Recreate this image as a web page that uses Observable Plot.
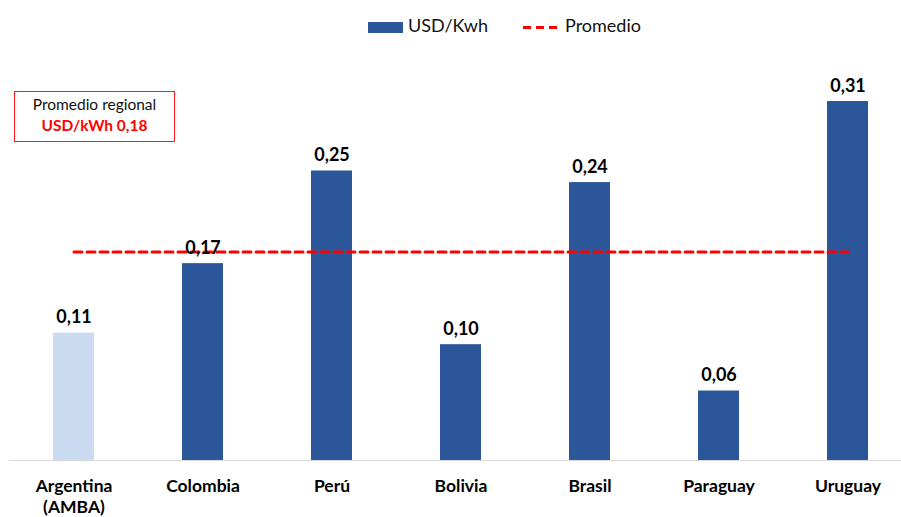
<!DOCTYPE html>
<html>
<head>
<meta charset="utf-8">
<script src="https://cdn.jsdelivr.net/npm/d3@7"></script>
<script src="https://cdn.jsdelivr.net/npm/@observablehq/plot@0.6"></script>
<style>
  html, body { margin: 0; padding: 0; background: #fff; }
  body { width: 901px; height: 517px; position: relative; overflow: hidden; font-family: Lato, "Open Sans", sans-serif; }
  #legend { position: absolute; left: 0; top: 0; width: 901px; height: 50px; }
  .lg { position: absolute; top: 14px; font-size: 18px; color: #111; line-height: 22px; }
  #chart { position: absolute; left: 0; top: 50px; }
  #note { position: absolute; left: 14px; top: 91px; width: 161px; height: 51px; border: 1.5px solid #ff1a1a; box-sizing: border-box; text-align: center; background: #fff; }
  #note .a { font-size: 15.5px; color: #111; margin-top: 3px; line-height: 19px; }
  #note .b { font-size: 15.5px; color: #ff0000; font-weight: bold; line-height: 22px; }
</style>
</head>
<body>
<div id="legend">
  <div class="lg" style="left:368px;"><span style="display:inline-block;width:35px;height:11px;background:#2B579A;vertical-align:-1px;margin-right:5px;"></span>USD/Kwh</div>
  <div class="lg" style="left:523px;"><svg width="35" height="11" style="vertical-align:-1px;margin-right:7px;"><line x1="0" x2="35" y1="5.5" y2="5.5" stroke="#ff0000" stroke-width="3" stroke-dasharray="8,5"></line></svg>Promedio</div>
</div>
<div id="chart"></div>
<div id="note"><div class="a">Promedio regional</div><div class="b">USD/kWh 0,18</div></div>
<script>
const countries = ["Argentina\n(AMBA)", "Colombia", "Perú", "Bolivia", "Brasil", "Paraguay", "Uruguay"];
const values = [0.11, 0.17, 0.25, 0.10, 0.24, 0.06, 0.31];
const highlight = [true, false, false, false, false, false, false];
const average = 0.18;

const data = countries.map((c, i) => ({country: c, value: values[i], light: highlight[i]}));
const fmt = v => v.toFixed(2).replace(".", ",");

const plot = Plot.plot({
  width: 901,
  height: 467,
  marginLeft: 20,
  marginRight: 0,
  marginTop: 51,
  marginBottom: 57,
  style: {fontFamily: "Lato, 'Open Sans', sans-serif", background: "#fff"},
  x: {domain: countries, paddingInner: 0.68, paddingOuter: 0.25, label: null, tickSize: 0, tickPadding: 18},
  y: {domain: [0, 0.31], axis: null},
  marks: [
    Plot.barY(data, {x: "country", y: "value", fill: d => d.light ? "#C9DAF1" : "#2B579A"}),
    Plot.ruleY([0], {stroke: "#d9d9d9", strokeWidth: 1, insetLeft: -11}),
    Plot.lineY([data[0], data[data.length - 1]], {x: "country", y: () => average, stroke: "#ff0000", strokeWidth: 3, strokeDasharray: "8,5"}),
    Plot.text(data, {x: "country", y: "value", text: d => fmt(d.value), dy: -10, lineAnchor: "bottom", fontSize: 18, fontWeight: "bold", fill: "#000"}),
    Plot.axisX({tickSize: 0, tickPadding: 17, fontSize: 17.5, fontWeight: "bold", label: null, lineHeight: 1.2, tickFormat: d => d})
  ]
});
plot.querySelectorAll("g[aria-label='x-axis tick label'] text").forEach(t => { t.setAttribute("fill", "#000"); });
document.getElementById("chart").appendChild(plot);
</script>
</body>
</html>
